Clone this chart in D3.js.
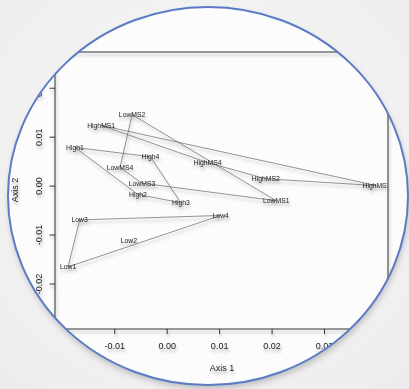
<!DOCTYPE html>
<html>
<head>
<meta charset="utf-8">
<script src="https://cdn.jsdelivr.net/npm/d3@7"></script>
<style>
  body { margin: 0; background: #f3f3f3; }
  svg { display: block; font-family: "Liberation Sans", Arial, sans-serif; }
</style>
</head>
<body>
<div id="chart"></div>
<script>
// sample scores on the two ordination axes
var sampleNames = ["Low1", "Low2", "Low3", "Low4",
  "High1", "High2", "High3", "High4",
  "LowMS1", "LowMS2", "LowMS3", "LowMS4",
  "HighMS1", "HighMS2", "HighMS3", "HighMS4"];
var axis1 = [-0.0188, -0.0072, -0.0166, 0.0103,
  -0.0175, -0.0055, 0.0027, -0.0031,
  0.0209, -0.0066, -0.0047, -0.0089,
  -0.0125, 0.0189, 0.0400, 0.0078];
var axis2 = [-0.0166, -0.0112, -0.0070, -0.0061,
  0.0078, -0.0018, -0.0035, 0.0059,
  -0.0031, 0.0145, 0.0005, 0.0037,
  0.0123, 0.0014, 0.0000, 0.0047];
var groups = ["Low", "Low", "Low", "Low", "High", "High", "High", "High",
  "LowMS", "LowMS", "LowMS", "LowMS", "HighMS", "HighMS", "HighMS", "HighMS"];
var xTicks = [-0.02, -0.01, 0.00, 0.01, 0.02, 0.03, 0.04];
var yTicks = [-0.02, -0.01, 0.00, 0.01, 0.02];

var W = 409, H = 389;
var lens = {cx: 208, cy: 196, rx: 200, ry: 189};

var svg = d3.select("#chart").append("svg")
  .attr("width", W).attr("height", H);

var defs = svg.append("defs");
defs.append("clipPath").attr("id", "lens")
  .append("ellipse")
  .attr("cx", lens.cx).attr("cy", lens.cy).attr("rx", lens.rx).attr("ry", lens.ry);
defs.append("clipPath").attr("id", "plotArea")
  .append("rect").attr("x", 55).attr("y", 52).attr("width", 333).attr("height", 277);
var shadow = defs.append("filter").attr("id", "shadow")
  .attr("x", "-20%").attr("y", "-20%").attr("width", "140%").attr("height", "140%");
shadow.append("feDropShadow")
  .attr("dx", 1).attr("dy", 3).attr("stdDeviation", 1.8)
  .attr("flood-color", "#000").attr("flood-opacity", 0.3);
var blur = defs.append("filter").attr("id", "blur");
blur.append("feGaussianBlur").attr("stdDeviation", 3);
var bg = defs.append("radialGradient").attr("id", "bg")
  .attr("cx", "50%").attr("cy", "45%").attr("r", "75%");
bg.append("stop").attr("offset", "0%").attr("stop-color", "#fafafa");
bg.append("stop").attr("offset", "100%").attr("stop-color", "#ececec");

svg.append("rect").attr("width", W).attr("height", H).attr("fill", "url(#bg)");

// shadow of the lens
svg.append("ellipse")
  .attr("cx", lens.cx + 1).attr("cy", lens.cy + 4)
  .attr("rx", lens.rx).attr("ry", lens.ry)
  .attr("fill", "#9a9a9a").attr("opacity", 0.6)
  .attr("filter", "url(#blur)");
svg.append("ellipse")
  .attr("cx", lens.cx).attr("cy", lens.cy).attr("rx", lens.rx).attr("ry", lens.ry)
  .attr("fill", "#fcfcfc");

var x = d3.scaleLinear().domain([-0.0213, 0.0422]).range([55, 388]);
var y = d3.scaleLinear().domain([-0.0293, 0.0273]).range([329, 52]);

var inner = svg.append("g").attr("clip-path", "url(#lens)");
var g = inner.append("g").attr("filter", "url(#shadow)");

var fmt = function(d) { return d.toFixed(2); };

var xAxis = g.append("g")
  .attr("transform", "translate(0,329)")
  .call(d3.axisBottom(x).tickValues(xTicks).tickSize(5).tickFormat(fmt));
xAxis.select(".domain").remove();
xAxis.selectAll("line").attr("stroke", "#333");
xAxis.selectAll("text")
  .attr("y", 16.7).attr("dy", "0.35em")
  .attr("font-size", 9).attr("fill", "#222")
  .attr("font-family", "Liberation Sans, Arial, sans-serif");

var yAxis = g.append("g")
  .attr("transform", "translate(55,0)")
  .call(d3.axisLeft(y).tickValues(yTicks).tickSize(5.5).tickFormat(fmt));
yAxis.select(".domain").remove();
yAxis.selectAll("line").attr("stroke", "#333");
yAxis.selectAll("text")
  .attr("x", 0).attr("dy", "0.35em")
  .attr("transform", "translate(-16,0) rotate(-90)")
  .attr("text-anchor", "middle")
  .attr("font-size", 9).attr("fill", "#222")
  .attr("font-family", "Liberation Sans, Arial, sans-serif");

g.append("rect")
  .attr("x", 55).attr("y", 52).attr("width", 333).attr("height", 277)
  .attr("fill", "none").attr("stroke", "#333").attr("stroke-width", 1);

g.append("text").attr("x", 222).attr("y", 368).attr("dy", "0.35em")
  .attr("text-anchor", "middle").attr("font-size", 9).attr("fill", "#222")
  .text("Axis 1");
g.append("text").attr("transform", "translate(15,190) rotate(-90)").attr("dy", "0.35em")
  .attr("text-anchor", "middle").attr("font-size", 9).attr("fill", "#222")
  .text("Axis 2");

var samples = sampleNames.map(function(n, i) {
  return {name: n, a1: axis1[i], a2: axis2[i], group: groups[i]};
});

var plot = g.append("g").attr("clip-path", "url(#plotArea)");

// hulls around each treatment group
var hulls = d3.groups(samples, function(d) { return d.group; }).map(function(gr) {
  return d3.polygonHull(gr[1].map(function(d) { return [x(d.a1), y(d.a2)]; }));
});
plot.selectAll("path.hull").data(hulls).enter().append("path")
  .classed("hull", true)
  .attr("d", function(h) { return "M" + h.join("L") + "Z"; })
  .attr("fill", "none").attr("stroke", "#666").attr("stroke-width", 0.7);

plot.selectAll("text.sample").data(samples).enter().append("text")
  .classed("sample", true)
  .attr("x", function(d) { return x(d.a1); })
  .attr("y", function(d) { return y(d.a2); })
  .attr("dy", "0.35em")
  .attr("text-anchor", "middle")
  .attr("font-size", 6.8)
  .attr("fill", "#222")
  .text(function(d) { return d.name; });

svg.append("ellipse")
  .attr("cx", lens.cx).attr("cy", lens.cy).attr("rx", lens.rx).attr("ry", lens.ry)
  .attr("fill", "none").attr("stroke", "#5b7bc4").attr("stroke-width", 2);
</script>
</body>
</html>
